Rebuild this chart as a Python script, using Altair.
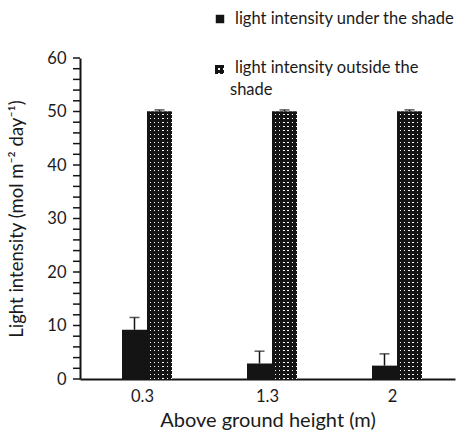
import altair as alt
import pandas as pd

# ---- data ----
heights = ["0.3", "1.3", "2"]
under_vals = [9.2, 2.9, 2.5]
under_err = [2.3, 2.3, 2.2]
outside_vals = [50.0, 50.0, 50.0]
outside_err = [0.3, 0.3, 0.3]
series = ["light intensity under the shade", "light intensity outside the shade"]
legend_lines = ["light intensity under the shade", "light intensity outside the", "shade"]
y_ticks = list(range(0, 61, 2))
y_title = "Light intensity (mol m\u207b\u00b2 day\u207b\u00b9)"
x_title = "Above ground height (m)"

rows = []
for h, v, e in zip(heights, under_vals, under_err):
    rows.append({"height": h, "series": series[0], "value": v, "top": v + e})
for h, v, e in zip(heights, outside_vals, outside_err):
    rows.append({"height": h, "series": series[1], "value": v, "top": v + e})
df = pd.DataFrame(rows)
ticks_df = pd.DataFrame({"value": y_ticks})

FONT = "Lato"
TXT = "#1a1a1a"
INK = "#141414"
BAND = 125
SHIFT = 4.5


def stripes(n, along_x, c1, c2, duty=0.7):
    stops = []
    for i in range(n):
        a, b, c = i / n, (i + duty) / n, (i + 1) / n
        stops += [
            alt.GradientStop(color=c1, offset=a),
            alt.GradientStop(color=c1, offset=b),
            alt.GradientStop(color=c2, offset=b),
            alt.GradientStop(color=c2, offset=c),
        ]
    return alt.LinearGradient(
        gradient="linear", stops=stops,
        x1=0, y1=0, x2=1 if along_x else 0, y2=0 if along_x else 1,
    )


x_enc = alt.X(
    "height:N", sort=heights,
    scale=alt.Scale(domain=heights, paddingInner=0, paddingOuter=0),
    axis=alt.Axis(title=x_title, labelAngle=0, ticks=False, labelPadding=9,
                  labelFontSize=16.5, titleFontSize=20, titlePadding=6,
                  grid=False),
)
# two empty slots on the sides keep the pair of bars narrow and centred
offset_domain = ["_l"] + series + ["_r"]
xo_enc = alt.XOffset(
    "series:N",
    scale=alt.Scale(domain=offset_domain, paddingInner=0, paddingOuter=0.5,
                    range=[SHIFT, BAND + SHIFT]),
)
y_axis = alt.Axis(values=y_ticks,
                  labelExpr="datum.value % 10 === 0 ? datum.label : ''",
                  labelOverlap=False, ticks=False,
                  title=y_title, titleFontSize=18.5, titlePadding=20,
                  labelFontSize=16.5, labelPadding=14, grid=False)
y_scale = alt.Scale(domain=[0, 60], nice=False)


def yq(field):
    return alt.Y(f"{field}:Q", scale=y_scale, axis=y_axis)


base = alt.Chart(df).encode(x=x_enc, xOffset=xo_enc)

under_bars = base.transform_filter(
    alt.datum.series == series[0]
).mark_bar(fill=INK, strokeWidth=0).encode(y=yq("value"))

out_base = base.transform_filter(alt.datum.series == series[1])
out_h = out_base.mark_bar(fill=stripes(67, False, INK, "#ffffff"),
                          strokeWidth=0).encode(y=yq("value"))
out_v = out_base.mark_bar(fill=stripes(6, True, INK, "rgba(0,0,0,0)"),
                          strokeWidth=0).encode(y=yq("value"))

err_rule = base.mark_rule(color=INK, strokeWidth=1.5).encode(
    y=yq("value"), y2="top:Q")
err_cap = base.mark_tick(color=INK, orient="horizontal", size=10,
                         thickness=1.5).encode(y=yq("top"))

# y-axis tick marks (major and minor alike)
tick_marks = alt.Chart(ticks_df).mark_rule(color=INK, strokeWidth=1.5).encode(
    y=yq("value"), x=alt.value(-7), x2=alt.value(0))

# ---- legend (drawn by hand) ----
leg1_sym = alt.Chart(pd.DataFrame({"s": [series[0]]})).mark_square(
    color=INK, size=72, opacity=1).encode(
    x=alt.value(140), y=alt.value(-39))
leg2_h = alt.Chart(pd.DataFrame({"s": [series[1]]})).mark_rect(
    fill=stripes(2, False, INK, "#ffffff")).encode(
    x=alt.value(135), x2=alt.value(144), y=alt.value(7), y2=alt.value(16))
leg2_v = alt.Chart(pd.DataFrame({"s": [series[1]]})).mark_rect(
    fill=stripes(2, True, INK, "rgba(0,0,0,0)")).encode(
    x=alt.value(135), x2=alt.value(144), y=alt.value(7), y2=alt.value(16))


def leg_text(t, x, y):
    return alt.Chart(pd.DataFrame({"t": [t]})).mark_text(
        align="left", baseline="middle", font=FONT, fontSize=16.5, color=TXT
    ).encode(x=alt.value(x), y=alt.value(y), text="t:N")


chart = alt.layer(
    out_h, out_v, under_bars, err_rule, err_cap, tick_marks,
    leg1_sym, leg2_h, leg2_v,
    leg_text(legend_lines[0], 155, -39),
    leg_text(legend_lines[1], 155, 10),
    leg_text(legend_lines[2], 150, 32),
).properties(
    width=375, height=321,
    padding={"left": 80, "top": 58, "right": 1, "bottom": 56},
    autosize="none", background="white",
).configure_view(strokeWidth=0).configure_axis(
    domainColor=INK, domainWidth=2,
    labelFont=FONT, labelColor=TXT,
    titleFont=FONT, titleColor=TXT, titleFontWeight="normal",
)

chart.save("out.html", embed_options={"renderer": "svg", "actions": False})
